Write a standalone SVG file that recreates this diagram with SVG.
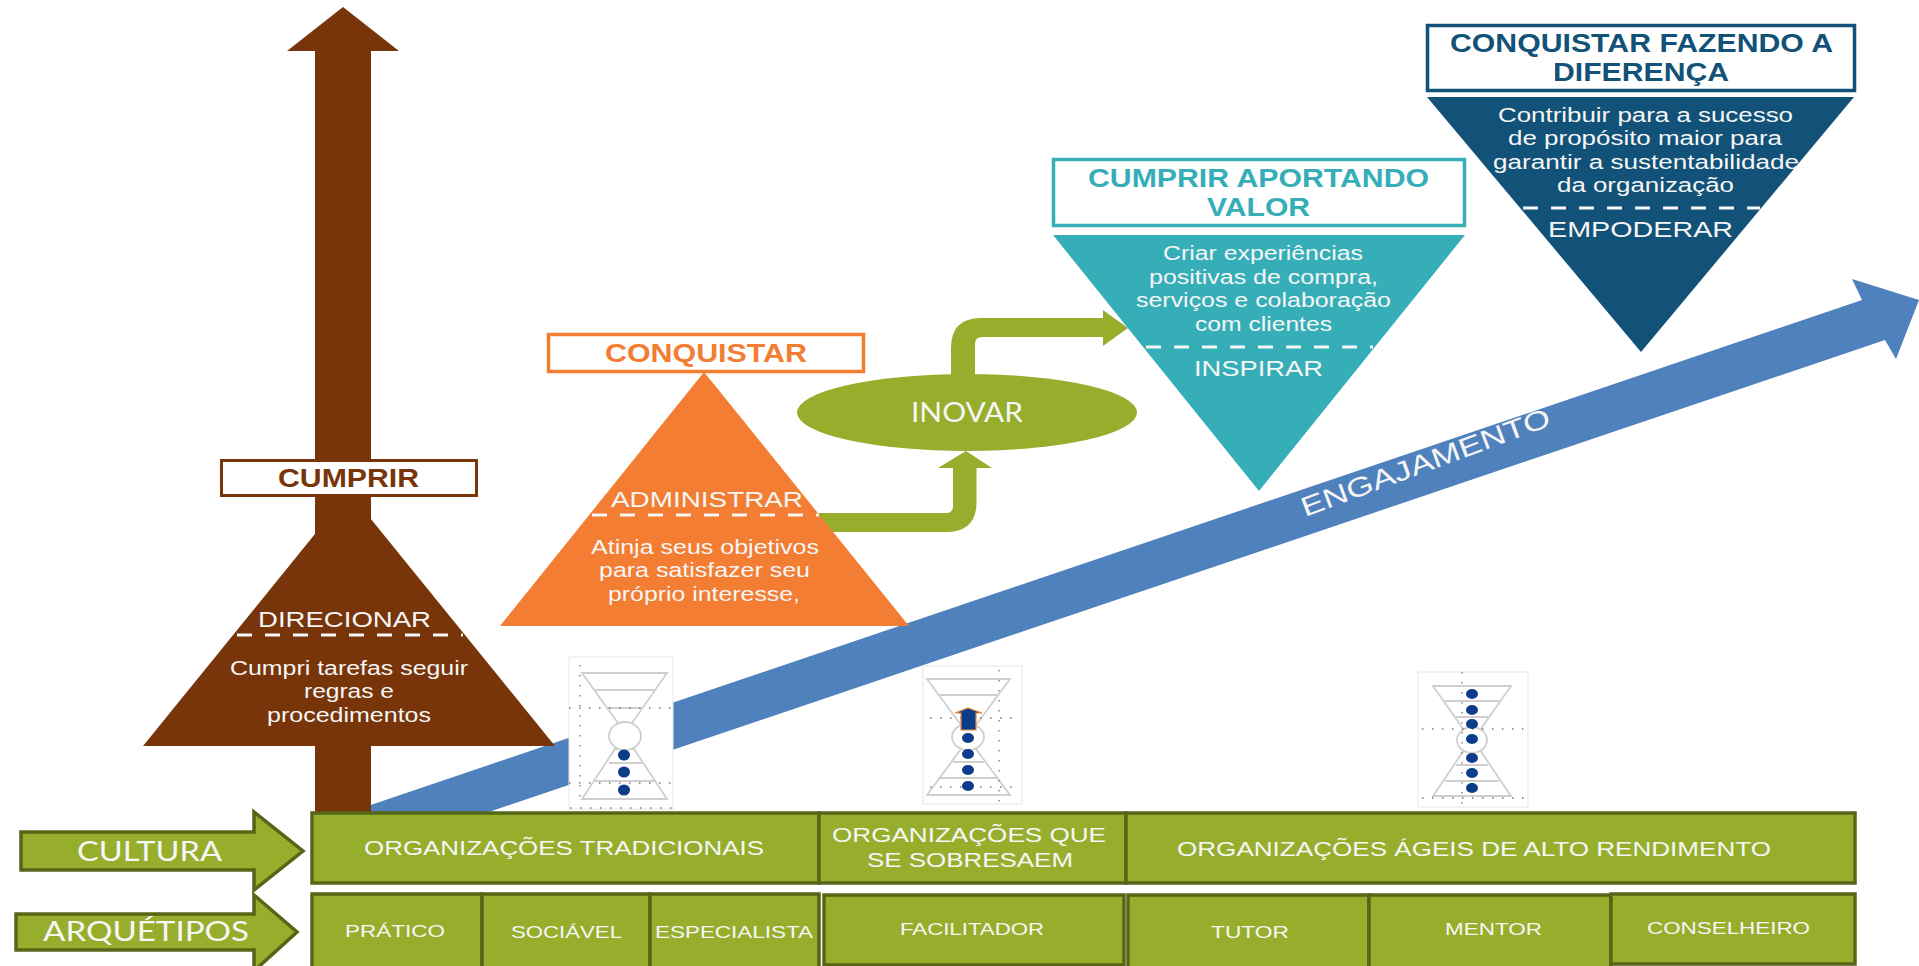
<svg xmlns="http://www.w3.org/2000/svg" width="1919" height="966" viewBox="0 0 1919 966">
<style>
text{font-family:"Liberation Sans",Arial,sans-serif;fill:#f6f6f6;}
.l{font-family:Lato,"Open Sans",sans-serif;font-size:27px;}
.b{font-weight:bold;font-size:25px;}
.d{stroke:#f6f6f6;stroke-width:3;stroke-dasharray:15 13;fill:none;}
.body{font-size:20px;}
.t{font-size:22px;}
.c{font-size:20px;}
.a{font-size:17px;}
.box{fill:#97ae2d;stroke:#566518;stroke-width:3.5;}
.side{fill:#97ae2d;stroke:#566518;stroke-width:3.5;}
.gl{fill:none;stroke:#cfcfcf;stroke-width:1.8;}
.fr{fill:#fff;stroke:#e6e6e6;stroke-width:1;}
.dt{fill:none;stroke:#777;stroke-width:1.3;stroke-dasharray:1.5 8.5;}
.dot{fill:#0b3d8a;}
</style>
<g id="connectors">
<path id="arrow-engajamento" fill="#4f81bd" d="M350,812 L1862,300 L1852,279 L1919,300 L1896,359 L1885,340 L480,815 Z"/>
<text transform="translate(1305,517) rotate(-20.4)" font-size="27" textLength="264" lengthAdjust="spacingAndGlyphs">ENGAJAMENTO</text>
<path id="arrow-cumprir" fill="#773509" d="M343,7 L399,51 H371 V815 H315 V51 H287 Z"/>
<path id="arrow-adm-inovar" fill="#97ae2d" d="M790,513 H946 Q953,513 953,506 V468 H938 L966,451 L992,468 H976.5 V502 Q976.5,532 946,532 H790 Z"/>
<path id="arrow-inovar-cumprir" fill="#97ae2d" d="M951,380 V348 Q951,318 981,318 H1103 V310 L1128,328 L1103,346 V337 H982 Q975,337 975,344 V380 Z"/>
</g>
<g id="hourglass-1">
<rect class="fr" x="569" y="657" width="104" height="152"/>
<path class="gl" d="M582,673 H667 L632,723 H618 Z M595,690 H655 M607,708 H643 M582,799 H667 L634,749 H615 Z M609,763 H642 M595,781 H655"/>
<ellipse cx="625" cy="736" rx="16" ry="14" fill="#fff" stroke="#cfcfcf" stroke-width="1.8"/>
<path class="dt" d="M569,708 H673 M569,783 H673 M580,665 V800 M570,808 H673"/>
<ellipse class="dot" cx="624" cy="755" rx="6" ry="5.5"/><ellipse class="dot" cx="624" cy="772" rx="6" ry="5.5"/><ellipse class="dot" cx="624" cy="790" rx="6" ry="5.5"/>
</g>
<g id="hourglass-2">
<rect class="fr" x="923" y="666" width="99" height="138"/>
<path class="gl" d="M927,679 H1010 L976,725 H961 Z M940,695 H997 M927,795 H1010 L976,749 H961 Z M953,762 H984 M940,778 H997"/>
<ellipse cx="968" cy="737" rx="16" ry="13" fill="#fff" stroke="#cfcfcf" stroke-width="1.8"/>
<path class="dt" d="M930,718 H1020 M930,787 H1020 M999,670 V803"/>
<ellipse class="dot" cx="968" cy="738" rx="6" ry="5"/><ellipse class="dot" cx="968" cy="754" rx="6" ry="5"/><ellipse class="dot" cx="968" cy="770" rx="6" ry="5"/><ellipse class="dot" cx="968" cy="786" rx="6" ry="5"/>
<path fill="#0b3d8a" stroke="#e98a3c" stroke-width="1.2" d="M968,708 L982,713 H976 V730 H961 V713 H955 Z"/>
</g>
<g id="hourglass-3">
<rect class="fr" x="1418" y="672" width="110" height="135"/>
<path class="gl" d="M1433,686 H1511 L1480,730 H1464 Z M1445,701 H1499 M1456,717 H1488 M1433,796 H1511 L1480,750 H1464 Z M1456,765 H1488 M1445,781 H1499"/>
<ellipse cx="1472" cy="740" rx="15" ry="13" fill="#fff" stroke="#cfcfcf" stroke-width="1.8"/>
<path class="dt" d="M1422,729 H1525 M1422,798 H1525 M1462,672 V807"/>
<ellipse class="dot" cx="1472" cy="694" rx="6" ry="5"/><ellipse class="dot" cx="1472" cy="710" rx="6" ry="5"/><ellipse class="dot" cx="1472" cy="724" rx="6" ry="5"/><ellipse class="dot" cx="1472" cy="739" rx="6" ry="5"/><ellipse class="dot" cx="1472" cy="758" rx="6" ry="5"/><ellipse class="dot" cx="1472" cy="773" rx="6" ry="5"/><ellipse class="dot" cx="1472" cy="788" rx="6" ry="5"/>
</g>
<g id="node-cumprir">
<path fill="#773509" d="M349,492 L555,746 H143 Z"/>
<rect x="221.500" y="460.500" width="255" height="35" fill="#fff" stroke="#773509" stroke-width="3"/>
<text class="b" x="278" y="487" textLength="141" lengthAdjust="spacingAndGlyphs" style="fill:#773509">CUMPRIR</text>
<text class="t" x="258" y="627" textLength="173" lengthAdjust="spacingAndGlyphs">DIRECIONAR</text>
<path class="d" d="M237,635 H463"/>
<text class="body" x="230" y="675" textLength="238" lengthAdjust="spacingAndGlyphs">Cumpri tarefas seguir</text>
<text class="body" x="304" y="698" textLength="90" lengthAdjust="spacingAndGlyphs">regras e</text>
<text class="body" x="267" y="722" textLength="164" lengthAdjust="spacingAndGlyphs">procedimentos</text>
</g>
<g id="node-conquistar">
<path fill="#f27d33" d="M704,372 L909,626 H500 Z"/>
<rect x="548.500" y="334.500" width="315" height="37" fill="#fff" stroke="#f27d33" stroke-width="3.500"/>
<text class="b" x="605" y="362" textLength="202" lengthAdjust="spacingAndGlyphs" style="fill:#f27d33">CONQUISTAR</text>
<text class="t" x="611" y="507" textLength="192" lengthAdjust="spacingAndGlyphs">ADMINISTRAR</text>
<path class="d" d="M592,515 H819"/>
<text class="body" x="591" y="554" textLength="228" lengthAdjust="spacingAndGlyphs">Atinja seus objetivos</text>
<text class="body" x="599" y="577" textLength="211" lengthAdjust="spacingAndGlyphs">para satisfazer seu</text>
<text class="body" x="608" y="601" textLength="192" lengthAdjust="spacingAndGlyphs">próprio interesse,</text>
</g>
<g id="node-inovar">
<ellipse cx="967" cy="412.500" rx="170" ry="38.500" fill="#97ae2d"/>
<text class="l" x="911" y="422" textLength="112" lengthAdjust="spacingAndGlyphs">INOVAR</text>
</g>
<g id="node-cumprir-aportando">
<path fill="#36aeb8" d="M1053,235 H1465 L1259,491 Z"/>
<rect x="1053.500" y="159.500" width="411" height="66" fill="#fff" stroke="#36aeb8" stroke-width="3.500"/>
<text class="b" x="1088" y="187" textLength="341" lengthAdjust="spacingAndGlyphs" style="fill:#36aeb8">CUMPRIR APORTANDO</text>
<text class="b" x="1207" y="216" textLength="103" lengthAdjust="spacingAndGlyphs" style="fill:#36aeb8">VALOR</text>
<text class="body" x="1163" y="260" textLength="200" lengthAdjust="spacingAndGlyphs">Criar experiências</text>
<text class="body" x="1149" y="284" textLength="229" lengthAdjust="spacingAndGlyphs">positivas de compra,</text>
<text class="body" x="1136" y="307" textLength="255" lengthAdjust="spacingAndGlyphs">serviços e colaboração</text>
<text class="body" x="1195" y="331" textLength="137" lengthAdjust="spacingAndGlyphs">com clientes</text>
<path class="d" d="M1146,347 H1373"/>
<text class="t" x="1194" y="376" textLength="129" lengthAdjust="spacingAndGlyphs">INSPIRAR</text>
</g>
<g id="node-conquistar-diferenca">
<path fill="#125278" d="M1427,97 H1854 L1641,352 Z"/>
<rect x="1427.500" y="25.500" width="427" height="65" fill="#fff" stroke="#125278" stroke-width="3.500"/>
<text class="b" x="1450" y="52" textLength="383" lengthAdjust="spacingAndGlyphs" style="fill:#125278">CONQUISTAR FAZENDO A</text>
<text class="b" x="1553" y="81" textLength="176" lengthAdjust="spacingAndGlyphs" style="fill:#125278">DIFERENÇA</text>
<text class="body" x="1498" y="122" textLength="295" lengthAdjust="spacingAndGlyphs">Contribuir para a sucesso</text>
<text class="body" x="1508" y="145" textLength="274" lengthAdjust="spacingAndGlyphs">de propósito maior para</text>
<text class="body" x="1493" y="169" textLength="306" lengthAdjust="spacingAndGlyphs">garantir a sustentabilidade</text>
<text class="body" x="1557" y="192" textLength="177" lengthAdjust="spacingAndGlyphs">da organização</text>
<path class="d" d="M1523,208 H1760"/>
<text class="t" x="1548" y="237" textLength="185" lengthAdjust="spacingAndGlyphs">EMPODERAR</text>
</g>
<g id="node-cultura-label">
<path class="side" d="M21,832 H254 V812 L303,851 L254,890 V870 H21 Z"/>
<text class="l" x="77" y="861" textLength="145" lengthAdjust="spacingAndGlyphs">CULTURA</text>
</g>
<g id="node-arquetipos-label">
<path class="side" d="M16,914 H254 V895 L297,932 L254,971 V950 H16 Z"/>
<text class="l" x="43" y="941" textLength="206" lengthAdjust="spacingAndGlyphs">ARQUÉTIPOS</text>
</g>
<g id="cultura-tradicionais"><rect class="box" x="312" y="813" width="507" height="70"/>
<text class="c" x="364" y="855" textLength="400" lengthAdjust="spacingAndGlyphs">ORGANIZAÇÕES TRADICIONAIS</text></g>
<g id="cultura-sobresaem"><rect class="box" x="819" y="813" width="307" height="70"/>
<text class="c" x="832" y="842" textLength="274" lengthAdjust="spacingAndGlyphs">ORGANIZAÇÕES QUE</text>
<text class="c" x="867" y="867" textLength="206" lengthAdjust="spacingAndGlyphs">SE SOBRESAEM</text></g>
<g id="cultura-ageis"><rect class="box" x="1126" y="813" width="729" height="70"/>
<text class="c" x="1177" y="856" textLength="594" lengthAdjust="spacingAndGlyphs">ORGANIZAÇÕES ÁGEIS DE ALTO RENDIMENTO</text></g>
<g id="arq-pratico"><rect class="box" x="312" y="894" width="170" height="75"/>
<text class="a" x="345" y="937" textLength="100" lengthAdjust="spacingAndGlyphs">PRÁTICO</text></g>
<g id="arq-sociavel"><rect class="box" x="482" y="894" width="168" height="75"/>
<text class="a" x="511" y="938" textLength="111" lengthAdjust="spacingAndGlyphs">SOCIÁVEL</text></g>
<g id="arq-especialista"><rect class="box" x="650" y="894" width="169" height="75"/>
<text class="a" x="655" y="938" textLength="158" lengthAdjust="spacingAndGlyphs">ESPECIALISTA</text></g>
<g id="arq-facilitador"><rect class="box" x="824" y="895" width="300" height="70"/>
<text class="a" x="900" y="935" textLength="144" lengthAdjust="spacingAndGlyphs">FACILITADOR</text></g>
<g id="arq-tutor"><rect class="box" x="1128" y="895" width="241" height="75"/>
<text class="a" x="1211" y="938" textLength="78" lengthAdjust="spacingAndGlyphs">TUTOR</text></g>
<g id="arq-mentor"><rect class="box" x="1369" y="895" width="242" height="75"/>
<text class="a" x="1445" y="935" textLength="97" lengthAdjust="spacingAndGlyphs">MENTOR</text></g>
<g id="arq-conselheiro"><rect class="box" x="1611" y="894" width="244" height="70"/>
<text class="a" x="1647" y="934" textLength="163" lengthAdjust="spacingAndGlyphs">CONSELHEIRO</text></g>
</svg>
